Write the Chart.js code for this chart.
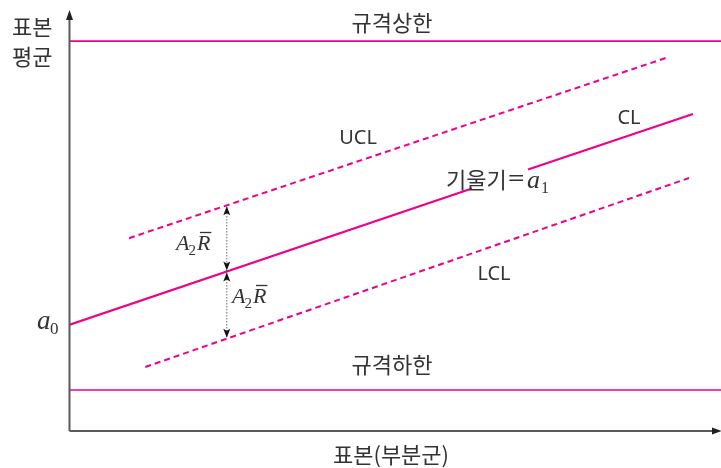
<!DOCTYPE html>
<html>
<head>
<meta charset="utf-8">
<script src="https://cdn.jsdelivr.net/npm/chart.js@4.4.1/dist/chart.umd.min.js"></script>
<style>
html,body{margin:0;padding:0;background:#fff;}
#wrap{width:721px;height:468px;position:relative;}
</style>
</head>
<body>
<div id="wrap"><canvas id="c" width="721" height="468"></canvas></div>
<script>
// ---- data (abstract units: x = sample index 0..100, y = sample mean 0..100) ----
const clSeg1 = [[0, 25.2], [61.8, 57.6]];
const clSeg2 = [[70.4, 62.1], [95.7, 75.3]];
const uclLine = [[9.2, 45.8], [91.9, 88.8]];
const lclLine = [[11.7, 15.2], [95.1, 60.1]];
const uslLine = [[0, 92.6], [100, 92.6]];
const lslLine = [[0, 9.74], [100, 9.74]];
const a2rAt = 24.2;               // x where A2·R̄ distances are shown
const a2rLevels = [53.6, 37.9, 21.9]; // UCL, CL, LCL values at that x

const toPts = arr => arr.map(p => ({x: p[0], y: p[1]}));
const PINK = '#ec008c';
const TXT = '#333333';

const overlay = {
  id: 'overlay',
  afterDatasetsDraw(chart) {
    const ctx = chart.ctx;
    const xs = chart.scales.x, ys = chart.scales.y;
    const ca = chart.chartArea;
    ctx.save();
    // axes
    const ox = ca.left + 0.5, oy = ca.bottom;
    ctx.strokeStyle = '#5a5a5a';
    ctx.lineWidth = 2;
    ctx.beginPath();
    ctx.moveTo(ox, oy); ctx.lineTo(ox, ca.top + 4);
    ctx.moveTo(ox, oy); ctx.lineTo(ca.right - 4, oy);
    ctx.stroke();
    ctx.fillStyle = '#222';
    ctx.beginPath();
    ctx.moveTo(ox, ca.top); ctx.lineTo(ox - 3.5, ca.top + 10); ctx.lineTo(ox + 3.5, ca.top + 10); ctx.closePath(); ctx.fill();
    ctx.beginPath();
    ctx.moveTo(ca.right + 1, oy); ctx.lineTo(ca.right - 9, oy - 3.5); ctx.lineTo(ca.right - 9, oy + 3.5); ctx.closePath(); ctx.fill();

    // A2R arrows
    const ax = xs.getPixelForValue(a2rAt);
    const yU = ys.getPixelForValue(a2rLevels[0]);
    const yC = ys.getPixelForValue(a2rLevels[1]);
    const yL = ys.getPixelForValue(a2rLevels[2]);
    ctx.strokeStyle = '#222';
    ctx.lineWidth = 1;
    ctx.setLineDash([1, 2]);
    ctx.beginPath();
    ctx.moveTo(ax, yU + 2); ctx.lineTo(ax, yL - 2);
    ctx.stroke();
    ctx.setLineDash([]);
    ctx.fillStyle = '#111';
    function head(y, dir) { // dir -1 up, +1 down
      ctx.beginPath();
      ctx.moveTo(ax, y);
      ctx.lineTo(ax - 3.5, y - dir * 9);
      ctx.lineTo(ax, y - dir * 7);
      ctx.lineTo(ax + 3.5, y - dir * 9);
      ctx.closePath(); ctx.fill();
    }
    head(yU + 1, -1); head(yC - 1, 1); head(yC + 1, -1); head(yL - 1, 1);

    // Korean / latin labels
    ctx.fillStyle = TXT;
    ctx.textBaseline = 'middle';
    ctx.textAlign = 'center';
    ctx.font = '22px "Noto Sans CJK KR"';
    ctx.fillText('규격상한', 392, 23);
    ctx.fillText('규격하한', 392, 365);
    ctx.fillText('표본(부분군)', 391, 455);
    ctx.textAlign = 'left';
    ctx.fillText('표본', 12, 27);
    ctx.fillText('평균', 12, 57);
    ctx.font = '20px "Noto Sans"';
    ctx.textAlign = 'center';
    ctx.fillText('UCL', 358, 138);
    ctx.fillText('CL', 629, 118);
    ctx.fillText('LCL', 494, 274);
    // slope label
    ctx.textAlign = 'left';
    ctx.font = '22px "Noto Sans CJK KR"';
    ctx.fillText('기울기', 446, 180);
    const w = ctx.measureText('기울기').width;
    ctx.font = '22px "Noto Sans"';
    ctx.save();
    ctx.translate(446 + w + 1, 180);
    ctx.scale(1.35, 1);
    ctx.fillText('=', 0, 0);
    ctx.restore();
    ctx.textBaseline = 'alphabetic';
    ctx.font = 'italic 26px "Liberation Serif"';
    ctx.fillText('a', 527, 188);
    const wa = ctx.measureText('a').width;
    ctx.font = '16px "Liberation Serif"';
    ctx.fillText('1', 527 + wa + 1, 193);
    // a0
    ctx.font = 'italic 27px "Liberation Serif"';
    ctx.fillText('a', 37, 329);
    ctx.font = '17px "Liberation Serif"';
    ctx.fillText('0', 50, 334);
    // A2R̄ labels
    function a2r(x, base) {
      ctx.font = 'italic 22px "Liberation Serif"';
      ctx.fillText('A', x, base);
      const wA = ctx.measureText('A').width;
      ctx.font = '15px "Liberation Serif"';
      ctx.fillText('2', x + wA - 1, base + 5);
      const w2 = ctx.measureText('2').width;
      ctx.font = 'italic 22px "Liberation Serif"';
      const rx = x + wA - 1 + w2 + 1;
      ctx.fillText('R', rx, base);
      const wR = ctx.measureText('R').width;
      ctx.strokeStyle = TXT; ctx.lineWidth = 1.3;
      ctx.beginPath();
      ctx.moveTo(rx + 3, base - 17.5); ctx.lineTo(rx + wR + 1, base - 17.5);
      ctx.stroke();
    }
    a2r(176, 250);
    a2r(232, 303);
    ctx.restore();
  }
};

const common = {pointRadius: 0, borderColor: PINK, fill: false, tension: 0};
new Chart(document.getElementById('c'), {
  type: 'line',
  data: {
    datasets: [
      Object.assign({label: '규격상한', data: toPts(uslLine), borderWidth: 1.6}, common),
      Object.assign({label: '규격하한', data: toPts(lslLine), borderWidth: 1.6}, common),
      Object.assign({label: 'CL', data: toPts(clSeg1), borderWidth: 2.2}, common),
      Object.assign({label: 'CL2', data: toPts(clSeg2), borderWidth: 2.2}, common),
      Object.assign({label: 'UCL', data: toPts(uclLine), borderWidth: 2, borderDash: [6, 4]}, common),
      Object.assign({label: 'LCL', data: toPts(lclLine), borderWidth: 2, borderDash: [6, 4]}, common)
    ]
  },
  options: {
    responsive: false,
    animation: false,
    layout: {padding: {left: 69, right: 0, top: 10, bottom: 37}},
    plugins: {legend: {display: false}, tooltip: {enabled: false}},
    scales: {
      x: {type: 'linear', min: 0, max: 100, display: false},
      y: {type: 'linear', min: 0, max: 100, display: false}
    }
  },
  plugins: [overlay]
});
</script>
</body>
</html>
